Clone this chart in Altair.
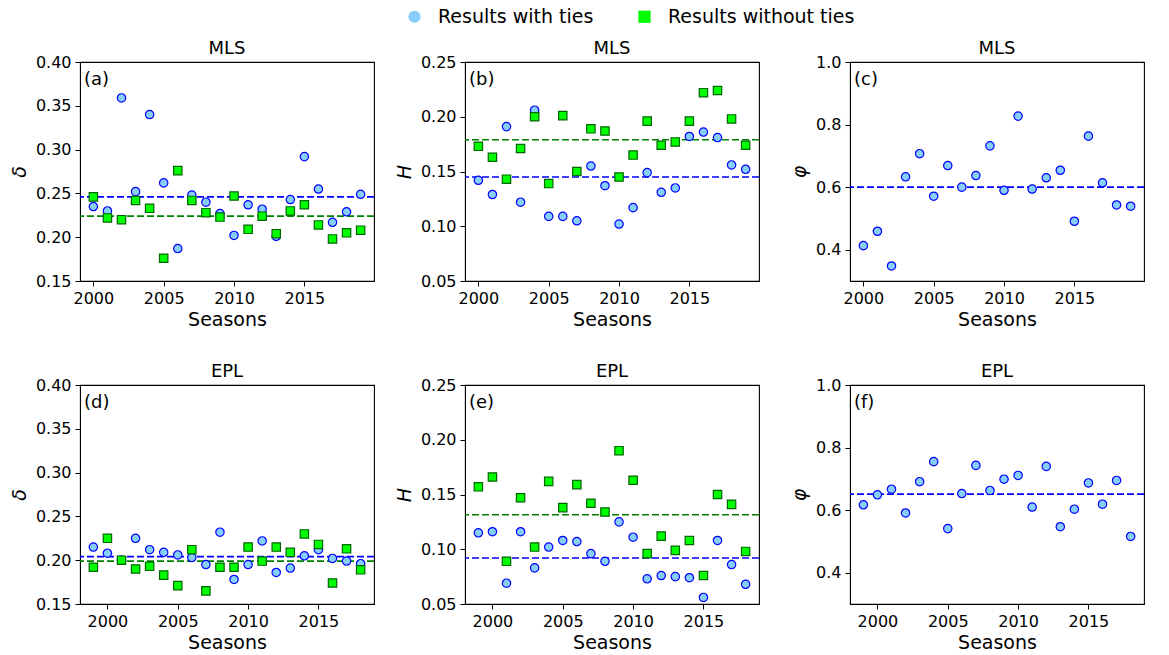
import altair as alt
import pandas as pd

SERIES = ["Results with ties", "Results without ties"]

years_mls = list(range(2000, 2020))
years_epl = list(range(1999, 2019))

# MLS delta
mls_delta_ties = [0.235, 0.230, 0.359, 0.252, 0.340, 0.262, 0.187, 0.248, 0.240, 0.227,
                  0.202, 0.237, 0.232, 0.201, 0.243, 0.292, 0.255, 0.217, 0.229, 0.249]
mls_delta_noties = [0.246, 0.222, 0.220, 0.242, 0.233, 0.176, 0.276, 0.242, 0.228, 0.223,
                    0.247, 0.209, 0.224, 0.204, 0.230, 0.237, 0.214, 0.198, 0.205, 0.208]
mls_delta_mean = [0.246, 0.224]

# MLS H
mls_h_ties = [0.142, 0.129, 0.191, 0.122, 0.206, 0.109, 0.109, 0.105, 0.155, 0.137,
              0.102, 0.117, 0.149, 0.131, 0.135, 0.182, 0.186, 0.181, 0.156, 0.152]
mls_h_noties = [0.173, 0.163, 0.143, 0.171, 0.200, 0.139, 0.201, 0.150, 0.189, 0.187,
                0.145, 0.165, 0.196, 0.174, 0.177, 0.196, 0.222, 0.224, 0.198, 0.174]
mls_h_mean = [0.145, 0.179]

# MLS phi
mls_phi = [0.413, 0.459, 0.348, 0.633, 0.707, 0.571, 0.669, 0.600, 0.637, 0.732,
           0.590, 0.827, 0.594, 0.630, 0.654, 0.491, 0.763, 0.614, 0.543, 0.539]
mls_phi_mean = 0.600

# EPL delta
epl_delta_ties = [0.215, 0.208, 0.200, 0.225, 0.212, 0.209, 0.206, 0.203, 0.195, 0.232,
                  0.178, 0.195, 0.222, 0.186, 0.191, 0.205, 0.212, 0.202, 0.199, 0.196]
epl_delta_noties = [0.192, 0.225, 0.200, 0.190, 0.193, 0.183, 0.171, 0.212, 0.165, 0.192,
                    0.192, 0.215, 0.199, 0.215, 0.209, 0.230, 0.218, 0.174, 0.213, 0.189]
epl_delta_mean = [0.204, 0.199]

# EPL H
epl_h_ties = [0.115, 0.116, 0.069, 0.116, 0.083, 0.102, 0.108, 0.107, 0.096, 0.089,
              0.125, 0.111, 0.073, 0.076, 0.075, 0.074, 0.056, 0.108, 0.086, 0.068]
epl_h_noties = [0.157, 0.166, 0.089, 0.147, 0.102, 0.162, 0.138, 0.159, 0.142, 0.134,
                0.190, 0.163, 0.096, 0.112, 0.099, 0.108, 0.076, 0.150, 0.141, 0.098]
epl_h_mean = [0.092, 0.1315]

# EPL phi
epl_phi = [0.617, 0.649, 0.667, 0.591, 0.691, 0.755, 0.541, 0.653, 0.743, 0.663,
           0.699, 0.711, 0.610, 0.740, 0.547, 0.603, 0.687, 0.619, 0.695, 0.516]
epl_phi_mean = 0.651

FILL = alt.Scale(domain=SERIES, range=["#87CEFA", "#00FF00"])
SHAPE = alt.Scale(domain=SERIES, range=["circle", "square"])
STROKE = alt.Scale(domain=SERIES, range=["#0000FF", "#006400"])
LINE_COLORS = ["#0000FF", "#008000"]

W, H = 294, 219


def panel(years, ties, noties, means, ydom, yticks, yfmt, ytitle, label, title, xdom, xticks):
    rows = [{"Season": y, "Value": v, "Series": SERIES[0]} for y, v in zip(years, ties)]
    if noties is not None:
        rows += [{"Season": y, "Value": v, "Series": SERIES[1]} for y, v in zip(years, noties)]
    df = pd.DataFrame(rows)
    x = alt.X("Season:Q", scale=alt.Scale(domain=xdom, nice=False, zero=False),
              axis=alt.Axis(values=xticks, format="d", title="Seasons"))
    y = alt.Y("Value:Q", scale=alt.Scale(domain=ydom, nice=False, zero=False),
              axis=alt.Axis(values=yticks, format=yfmt, title=ytitle,
                            titleFontStyle="italic"))
    layers = []
    for m, c in zip(means, LINE_COLORS):
        layers.append(
            alt.Chart(pd.DataFrame({"m": [m]})).mark_rule(
                color=c, strokeDash=[7, 3], strokeWidth=1.7
            ).encode(y=alt.Y("m:Q", scale=alt.Scale(domain=ydom, nice=False, zero=False)))
        )
    pts = alt.Chart(df).mark_point(filled=True, opacity=1, size=70, strokeWidth=1.2).encode(
        x=x, y=y,
        fill=alt.Fill("Series:N", scale=FILL, title=None),
        shape=alt.Shape("Series:N", scale=SHAPE, title=None),
        stroke=alt.Stroke("Series:N", scale=STROKE, title=None),
    )
    txt = alt.Chart(pd.DataFrame({"t": [label]})).mark_text(
        align="left", baseline="middle", fontSize=18, font="DejaVu Sans", color="black"
    ).encode(x=alt.value(4), y=alt.value(18), text="t:N")
    return alt.layer(*layers, pts, txt).properties(
        width=W, height=H,
        title=alt.Title(title, fontSize=18, fontWeight="normal", offset=-4),
    )


d_ticks = [0.15, 0.20, 0.25, 0.30, 0.35, 0.40]
h_ticks = [0.05, 0.10, 0.15, 0.20, 0.25]
p_ticks = [0.4, 0.6, 0.8, 1.0]
xt_mls = [2000, 2005, 2010, 2015, 2020]
xt_epl = [2000, 2005, 2010, 2015]
xd_mls = [1999.05, 2019.95]
xd_epl = [1998.05, 2018.95]

a = panel(years_mls, mls_delta_ties, mls_delta_noties, mls_delta_mean, [0.15, 0.40], d_ticks, ".2f", "δ", "(a)", "MLS", xd_mls, xt_mls)
b = panel(years_mls, mls_h_ties, mls_h_noties, mls_h_mean, [0.05, 0.25], h_ticks, ".2f", "H", "(b)", "MLS", xd_mls, xt_mls)
c = panel(years_mls, mls_phi, None, [mls_phi_mean], [0.3, 1.0], p_ticks, ".1f", "φ", "(c)", "MLS", xd_mls, xt_mls)
d = panel(years_epl, epl_delta_ties, epl_delta_noties, epl_delta_mean, [0.15, 0.40], d_ticks, ".2f", "δ", "(d)", "EPL", xd_epl, xt_epl)
e = panel(years_epl, epl_h_ties, epl_h_noties, epl_h_mean, [0.05, 0.25], h_ticks, ".2f", "H", "(e)", "EPL", xd_epl, xt_epl)
f = panel(years_epl, epl_phi, None, [epl_phi_mean], [0.3, 1.0], p_ticks, ".1f", "φ", "(f)", "EPL", xd_epl, xt_epl)

chart = alt.concat(a, b, c, d, e, f, columns=3, spacing={"row": 104, "column": 91}, bounds="flush").resolve_scale(
    x="independent", y="independent", fill="shared", shape="shared", stroke="shared"
).configure(
    font="DejaVu Sans",
    padding={"left": 9, "top": 7, "right": 5, "bottom": 5},
    background="white",
).configure_view(
    stroke="black", strokeWidth=1.1
).configure_axis(
    grid=False, domainColor="black", tickColor="black", tickSize=5, tickWidth=1,
    labelFontSize=16, labelColor="black", labelPadding=4, titleFontSize=19,
    titleFontWeight="normal", titleColor="black", labelFont="DejaVu Sans", titleFont="DejaVu Sans",
).configure_axisX(
    titlePadding=4
).configure_axisY(
    titlePadding=6
).configure_legend(
    orient="none", legendX=325, legendY=-55, direction="horizontal",
    labelFontSize=19, labelColor="black", symbolSize=150, symbolStrokeWidth=0,
    columnPadding=41, labelOffset=14, padding=0, labelLimit=400,
)

chart.save("out.html", embed_options={"renderer": "svg", "actions": False})
